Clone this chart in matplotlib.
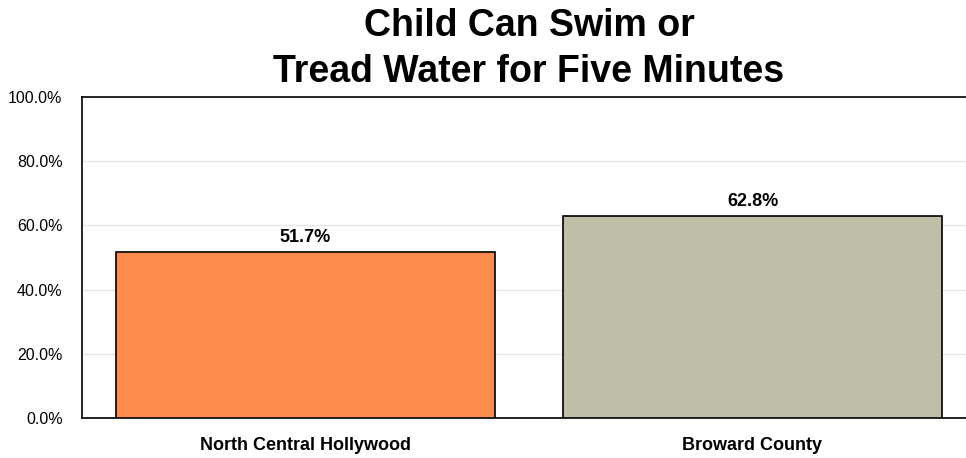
import matplotlib.pyplot as plt
from matplotlib import font_manager

categories = ['North Central Hollywood', 'Broward County']
values = [51.7, 62.8]
colors = ['#FF8C4F', '#BFBFA7']
yticks = [0, 20, 40, 60, 80, 100]

names = {f.name for f in font_manager.fontManager.ttflist}
narrow = 'Liberation Sans Narrow' if 'Liberation Sans Narrow' in names else 'Liberation Sans'
plt.rcParams['font.family'] = ['Liberation Sans', 'DejaVu Sans']

fig = plt.figure(figsize=(9.66, 4.58), dpi=100)
ax = fig.add_axes([82 / 966, 40 / 458, 894 / 966, 321 / 458])

x = range(len(categories))
bars = ax.bar(x, values, width=0.85, color=colors, edgecolor='black', linewidth=1.2, zorder=3)
for b, v in zip(bars, values):
    ax.text(b.get_x() + b.get_width() / 2, v + 2.0, f'{v:.1f}%', ha='center', va='bottom',
            fontsize=13, fontweight='bold', family=narrow)

ax.set_xlim(-0.5, 1.5)
ax.set_ylim(0, 100)
ax.set_yticks(yticks)
ax.set_yticklabels([f'{t:.1f}%' for t in yticks], fontsize=11.5, family=narrow)
ax.set_xticks(list(x))
ax.set_xticklabels(categories, fontsize=13, fontweight='bold', family=narrow)
ax.tick_params(axis='y', length=0, pad=14)
ax.tick_params(axis='x', length=0, pad=14)
ax.grid(axis='y', color='#E6E6E6', linewidth=1, zorder=0)
for s in ['left', 'bottom', 'top']:
    ax.spines[s].set_linewidth(1.2)
ax.spines['right'].set_visible(False)

ax.set_title('Child Can Swim or\nTread Water for Five Minutes', fontsize=27, fontweight='bold',
             linespacing=1.35, pad=11)

fig.savefig('out.png', dpi=100)
